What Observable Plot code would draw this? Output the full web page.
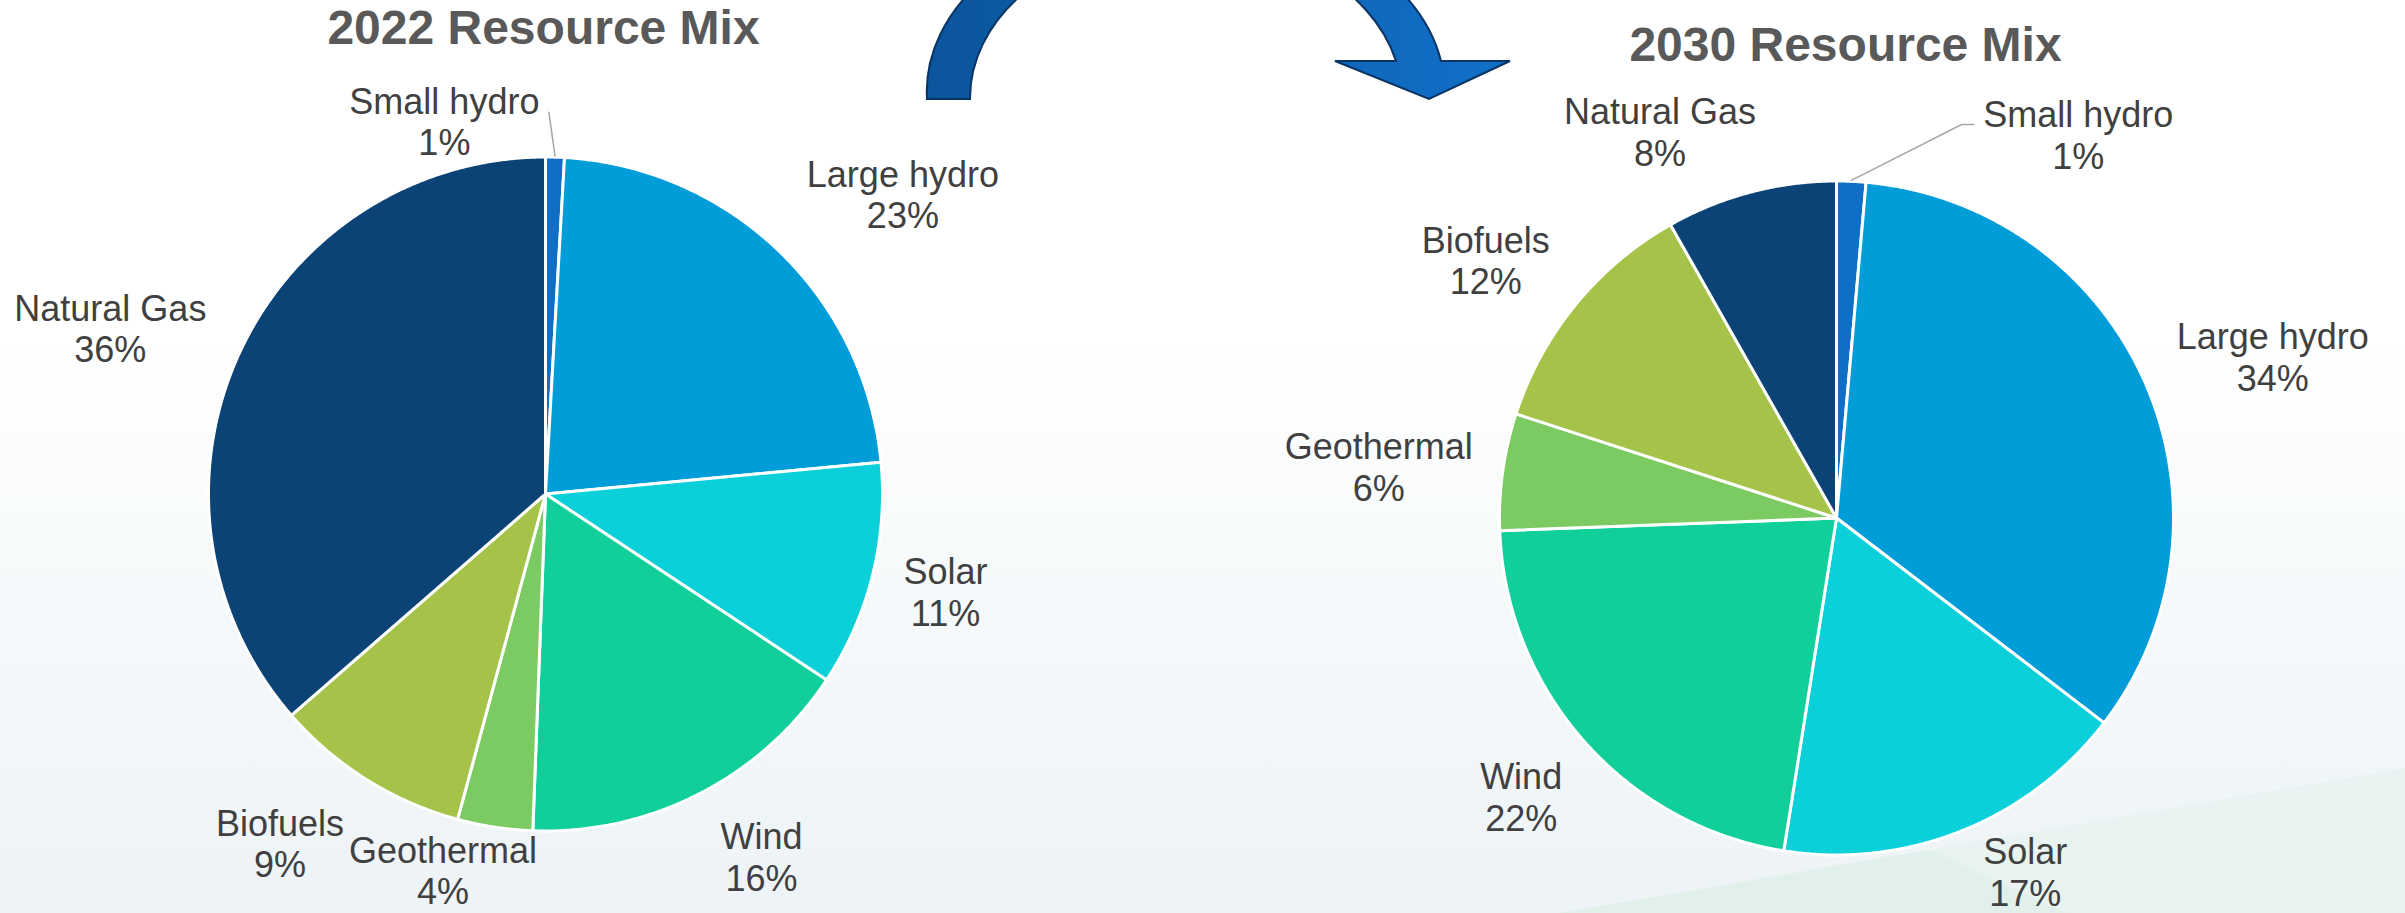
<!DOCTYPE html>
<html><head><meta charset="utf-8">
<script src="https://cdn.jsdelivr.net/npm/d3@7"></script>
<script src="https://cdn.jsdelivr.net/npm/@observablehq/plot@0.6"></script>
<style>
html,body{margin:0;padding:0;background:#fff;}
#wrap{position:relative;width:2405px;height:913px;overflow:hidden;
 background:linear-gradient(to bottom,#ffffff 0%,#ffffff 38%,#f7fafb 62%,#edf3f6 100%);}
#bg,#deco,#chart{position:absolute;left:0;top:0;}
</style></head><body>
<div id="wrap">
<svg id="bg" width="2405" height="913">
  <polygon points="1560,913 2405,768 2405,913" fill="#e4f2ec" opacity="0.6"/>
  <polygon points="1560,913 1930,850 2065,913" fill="#dcefe7" opacity="0.6"/>
</svg>
<div id="chart"></div>
<svg id="deco" width="2405" height="913">
  <defs>
    <linearGradient id="ag" x1="0" x2="1" y1="0" y2="0">
      <stop offset="0" stop-color="#0b559c"/>
      <stop offset="0.5" stop-color="#0e62b2"/>
      <stop offset="1" stop-color="#1170c8"/>
    </linearGradient>
  </defs>
  <path d="M927,99 A259,180 0 0 1 1441,61 L1510,61 L1429,99 L1335,61 L1396,61 A216,160 0 0 0 970,99 Z"
        fill="url(#ag)" stroke="#0a3463" stroke-width="2" stroke-linejoin="miter"/>
</svg>
</div>
<script>
// ---------------- data ----------------
const categories = ["Small hydro", "Large hydro", "Solar", "Wind", "Geothermal", "Biofuels", "Natural Gas"];
const share2022 = [0.9, 22.6, 10.8, 16.3, 3.6, 9.4, 36.4];
const share2030 = [1.4, 34.0, 17.1, 21.9, 5.6, 11.8, 8.2];
const titles = ["2022 Resource Mix", "2030 Resource Mix"];

// ---------------- styles / layout ----------------
const colors = ["#0F6FC6", "#009DD9", "#0BD0D9", "#10CF9B", "#7CCA62", "#A5C249", "#0C4377"];
const W = 2405, H = 913;
// label layout: [radius factor, angle shift in degrees] relative to slice mid-angle
const labelLayout2022 = [[1.146, -16.8], [1.384, 6.1], [1.222, -0.3], [1.252, -3.6], [1.157, 6.6], [1.302, 5.2], [1.382, -3.6]];
const labelLayout2030 = [[1.345, 29.7], [1.38, 3.5], [1.19, -6.3], [1.249, 0.1], [1.367, -1.5], [1.292, -2.9], [1.26, -9.8]];
const pies = [
  {id: "2022", values: share2022, title: titles[0], cx: 545, cy: 493.5, r: 337, tx: 543, ty: 43,
   layout: labelLayout2022, leader: {slice: 0, offsets: [[104.5, -9]]}},
  {id: "2030", values: share2030, title: titles[1], cx: 1836, cy: 517.5, r: 337, tx: 1845, ty: 60,
   layout: labelLayout2030, leader: {slice: 0, offsets: [[-104.5, -10], [-116.5, -10]]}}
];

const slicePts = [], labels = [], leaders = [], titleData = [];
const rad = Math.PI / 180;
for (const p of pies) {
  const arcs = d3.pie().sort(null).value(d => d)(p.values);
  arcs.forEach((a, i) => {
    const key = p.id + "|" + categories[i];
    slicePts.push({key, cat: categories[i], x: p.cx, y: p.cy});
    const steps = Math.max(2, Math.ceil((a.endAngle - a.startAngle) / 0.005));
    for (let s = 0; s <= steps; s++) {
      const t = a.startAngle + (a.endAngle - a.startAngle) * s / steps;
      slicePts.push({key, cat: categories[i], x: p.cx + p.r * Math.sin(t), y: p.cy - p.r * Math.cos(t)});
    }
    const mid = (a.startAngle + a.endAngle) / 2;
    const [k, dt] = p.layout[i];
    const ang = mid + dt * rad;
    const lx = p.cx + p.r * k * Math.sin(ang), ly = p.cy - p.r * k * Math.cos(ang);
    labels.push({x: lx, y: ly, text: categories[i] + "\n" + Math.round(p.values[i]) + "%"});
    if (p.leader.slice === i) {
      const lid = p.id + "-leader";
      for (const [ox, oy] of p.leader.offsets) leaders.push({id: lid, x: lx + ox, y: ly + oy});
      leaders.push({id: lid, x: p.cx + (p.r + 1) * Math.sin(mid), y: p.cy - (p.r + 1) * Math.cos(mid)});
    }
  });
  titleData.push({x: p.tx, y: p.ty, text: p.title});
}

const chart = Plot.plot({
  width: W, height: H, margin: 0,
  x: {domain: [0, W], range: [0, W], axis: null},
  y: {domain: [0, H], range: [0, H], axis: null},
  color: {domain: categories, range: colors},
  style: {background: "transparent", fontFamily: "'Liberation Sans', Arial, sans-serif", overflow: "visible"},
  marks: [
    Plot.line(slicePts, {x: "x", y: "y", z: "key", fill: "cat", stroke: "white", strokeWidth: 3,
      strokeLinejoin: "round", curve: "linear-closed"}),
    Plot.line(leaders, {x: "x", y: "y", z: "id", stroke: "#A6A6A6", strokeWidth: 1.5}),
    Plot.text(labels, {x: "x", y: "y", text: "text", fontSize: 36, fill: "#404040",
      lineHeight: 1.153, lineAnchor: "middle", textAnchor: "middle"}),
    Plot.text(titleData, {x: "x", y: "y", text: "text", fontSize: 48, fontWeight: "bold",
      fill: "#595959", lineAnchor: "bottom", textAnchor: "middle"})
  ]
});
document.getElementById("chart").appendChild(chart);
</script>
</body></html>
